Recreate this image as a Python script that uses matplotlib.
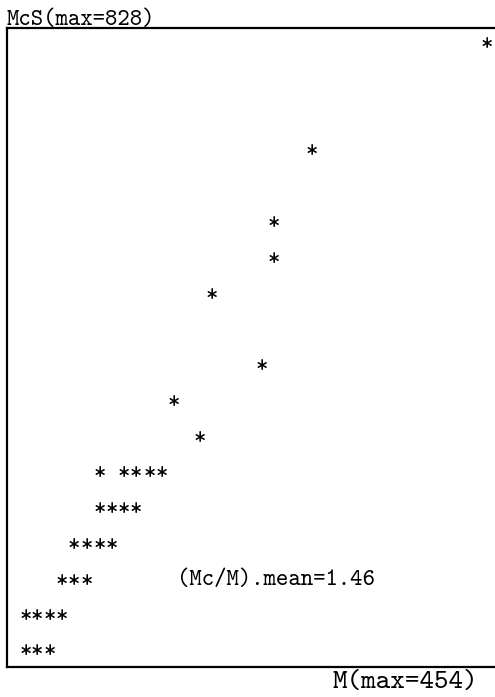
import matplotlib
matplotlib.use("Agg")
import matplotlib.pyplot as plt
from matplotlib.transforms import offset_copy

# Data points (M, McS)
M_vals = [454, 282, 245, 245, 184, 233, 147, 172,
          74, 98, 110, 123, 135,
          74, 86, 98, 110,
          49, 61, 74, 86,
          37, 49, 61,
          2, 12, 25, 37,
          2, 12, 25]
McS_vals = [828, 682, 584, 536, 487, 390, 341, 292,
            244, 244, 244, 244, 244,
            195, 195, 195, 195,
            146, 146, 146, 146,
            97, 97, 97,
            49, 49, 49, 49,
            2, 2, 2]

y_label = "McS(max=828)"
x_label = "M(max=454)"
note = "(Mc/M).mean=1.46"
note_pos = (150, 97)

W, H = 495, 697
fig = plt.figure(figsize=(W / 100, H / 100), dpi=100)

def fx(px):
    return px / W

def fy(py):
    return 1 - py / H

ax_left, ax_right, ax_top, ax_bottom = 7, 502, 28, 667
ax = fig.add_axes([fx(ax_left), fy(ax_bottom), fx(ax_right) - fx(ax_left), fy(ax_top) - fy(ax_bottom)])

# M=0 -> px 24, 12.5 px per column; McS=0 -> py 651, 35.8 px per row
sx = 12.5 / (454 / 37)
sy = 35.8 / (828 / 17)
ax.set_xlim((ax_left - 24) / sx, (ax_right - 24) / sx)
ax.set_ylim((651 - ax_bottom) / sy, (651 - ax_top) / sy)
ax.set_xticks([])
ax.set_yticks([])
for s in ax.spines.values():
    s.set_linewidth(1.6)
    s.set_color("black")
ax.spines["right"].set_visible(False)

font = "cmtt10"
fs = 17
star_tr = offset_copy(ax.transData, fig=fig, x=0, y=-4, units="dots")
for m, c in zip(M_vals, McS_vals):
    ax.text(m, c, "*", ha="center", va="center", fontfamily=font, fontsize=fs,
            color="black", transform=star_tr)

ax.text(note_pos[0], note_pos[1], note, ha="left", va="center", fontfamily=font,
        fontsize=fs, color="black", transform=offset_copy(ax.transData, fig=fig, x=0, y=-1, units="dots"))

fig.text(fx(7), fy(25), y_label, ha="left", va="baseline", fontfamily=font, fontsize=fs, color="black")
fig.text(fx(333), fy(682), x_label, ha="left", va="center", fontfamily=font, fontsize=20, color="black")

fig.savefig("out.png", dpi=100, facecolor="white")
